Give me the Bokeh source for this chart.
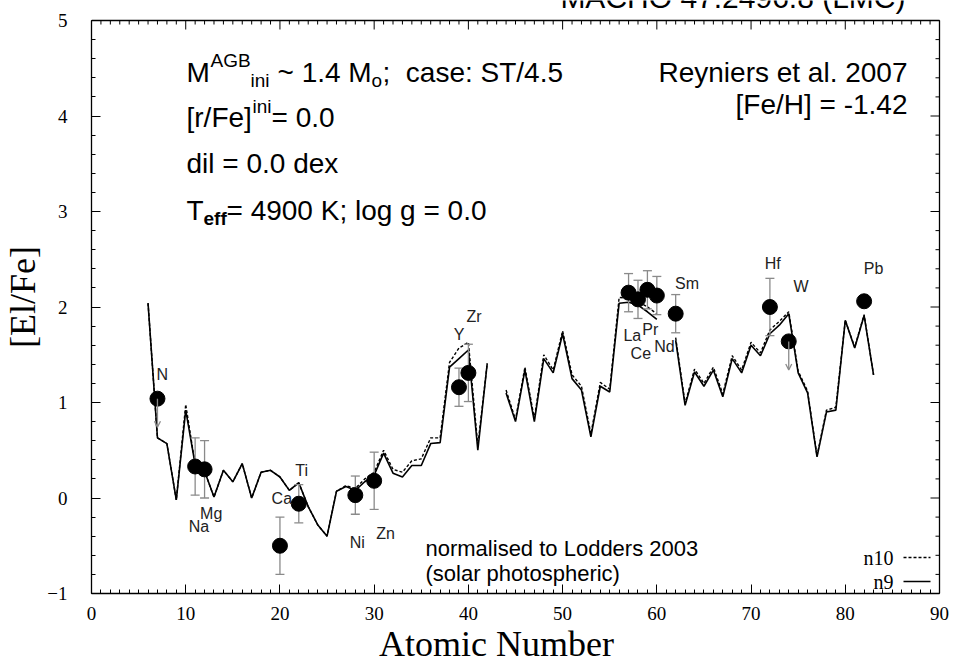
from bokeh.plotting import figure
from bokeh.models import (ColumnDataSource, Label, SingleIntervalTicker,
                          Range1d, Arrow, OpenHead)
from bokeh.core.properties import value
from bokeh.embed import file_html
from bokeh.resources import INLINE

NAN = float("nan")

# ---- model predictions, [El/Fe] versus atomic number (Tc and Pm have no value)
z_model = list(range(6, 84))
n9 = [2.04, 0.63, 0.57, -0.02, 0.92, 0.35, 0.28, 0.01, 0.29, 0.17,
      0.36, 0.00, 0.27, 0.29, 0.22, 0.08, 0.16, -0.09, -0.28, -0.40,
      0.07, 0.12, 0.08, 0.17, 0.24, 0.47, 0.26, 0.22, 0.34, 0.34,
      0.57, 0.58, 1.37, 1.46, 1.55, 0.50, 1.41, NAN, 1.10, 0.80,
      1.34, 0.80, 1.46, 1.31, 1.72, 1.25, 1.13, 0.64, 1.17, 1.11,
      2.04, 2.05, 2.02, 1.95, 1.87, NAN, 1.65, 0.97, 1.32, 1.17,
      1.34, 1.06, 1.46, 1.31, 1.60, 1.49, 1.72, 1.81, 1.93, 1.31,
      1.10, 0.43, 0.90, 0.92, 1.86, 1.57, 1.91, 1.29]
n10 = [2.04, 0.63, 0.57, -0.02, 0.98, 0.35, 0.28, 0.01, 0.29, 0.17,
       0.36, 0.00, 0.27, 0.29, 0.22, 0.08, 0.16, -0.09, -0.28, -0.40,
       0.07, 0.13, 0.10, 0.20, 0.27, 0.50, 0.30, 0.27, 0.39, 0.41,
       0.63, 0.63, 1.42, 1.57, 1.63, 0.55, 1.41, NAN, 1.13, 0.82,
       1.37, 0.83, 1.50, 1.34, 1.75, 1.29, 1.17, 0.67, 1.21, 1.14,
       2.10, 2.09, 2.06, 2.00, 1.93, NAN, 1.68, 0.99, 1.35, 1.20,
       1.37, 1.09, 1.49, 1.34, 1.63, 1.52, 1.76, 1.85, 1.95, 1.33,
       1.12, 0.44, 0.92, 0.95, 1.86, 1.58, 1.92, 1.29]

# ---- observed abundances (Reyniers et al. 2007)
obs_el = ["N", "Na", "Mg", "Ca", "Ti", "Ni", "Zn", "Y", "Zr",
          "La", "Ce", "Pr", "Nd", "Sm", "Hf", "W", "Pb"]
obs_z = [7, 11, 12, 20, 22, 28, 30, 39, 40, 57, 58, 59, 60, 62, 72, 74, 82]
obs_val = [1.04, 0.33, 0.30, -0.50, -0.06, 0.03, 0.18, 1.16, 1.31,
           2.15, 2.08, 2.18, 2.12, 1.93, 2.00, 1.64, 2.06]
obs_err = [0.0, 0.3, 0.3, 0.3, 0.2, 0.2, 0.3, 0.2, 0.3,
           0.2, 0.2, 0.2, 0.2, 0.2, 0.3, 0.0, 0.0]
upper_limits = ["N", "W"]

# where each element name is written, in data units
label_pos = {
    "N": (7.5, 1.29), "Na": (11.4, -0.30), "Mg": (12.7, -0.16),
    "Ca": (20.2, 0.00), "Ti": (22.3, 0.29), "Ni": (28.2, -0.47),
    "Zn": (31.2, -0.37), "Y": (39.0, 1.71), "Zr": (40.6, 1.90),
    "La": (57.4, 1.70), "Ce": (58.3, 1.51), "Pr": (59.3, 1.76),
    "Nd": (60.8, 1.59), "Sm": (63.2, 2.25), "Hf": (72.3, 2.46),
    "W": (75.3, 2.21), "Pb": (83.0, 2.40),
}

# ---- geometry: the box [0,90]x[-1,5] sits at pixels x 91..939, y 20..593.
# The drawing frame is stretched to the top and right canvas edges so that
# the clipped run title above the box can be shown; the top and right sides
# of the box are drawn by hand.
W, H = 955, 671
BL, BR, BT, BB = 91, 939, 20, 593
X0, X1, Y0, Y1 = 0, 90, -1, 5
PX_X = (BR - BL) / (X1 - X0)
PX_Y = (BB - BT) / (Y1 - Y0)


def at(px, py):
    """Convert a canvas pixel position to data coordinates."""
    return X0 + (px - BL) / PX_X, Y1 - (py - BT) / PX_Y


SANS = "Liberation Sans"
SERIF = "Liberation Serif"
NB = "\u00a0"

p = figure(width=W, height=H,
           x_range=Range1d(X0, X1 + (W - BR) / PX_X),
           y_range=Range1d(Y0, Y1 + BT / PX_Y),
           output_backend="svg", toolbar_location=None,
           min_border_left=BL, min_border_right=0,
           min_border_top=0, min_border_bottom=H - BB)
p.grid.visible = False
p.outline_line_color = None
p.background_fill_color = "white"
p.border_fill_color = "white"

xt = SingleIntervalTicker(interval=10, num_minor_ticks=10)
yt = SingleIntervalTicker(interval=1, num_minor_ticks=5)
p.xaxis.ticker = xt
p.yaxis.ticker = yt
p.xaxis.bounds = (X0, X1)
p.yaxis.bounds = (Y0, Y1)

p.yaxis.axis_label = "[El/Fe]"
p.xaxis.axis_label = "Atomic Number" + NB * 6
for ax in p.axis:
    ax.axis_label_text_font = SERIF
    ax.axis_label_text_font_size = "36px"
    ax.axis_label_text_font_style = "normal"
    ax.axis_label_text_color = "black"
    ax.axis_label_standoff = 1
    ax.major_label_text_font = SERIF
    ax.major_label_text_font_size = "19px"
    ax.major_label_text_color = "black"
    ax.axis_line_color = "black"
    ax.axis_line_width = 1.3
    ax.major_tick_in = 9
    ax.major_tick_out = 0
    ax.minor_tick_in = 4
    ax.minor_tick_out = 0
    ax.major_tick_line_color = "black"
    ax.minor_tick_line_color = "black"
p.yaxis.major_label_standoff = 24
p.xaxis.major_label_standoff = 13

# top and right sides of the box, with their inward ticks
top_major = list(range(X0, X1 + 1, 10))
top_minor = [x for x in range(X0, X1 + 1) if x % 10]
right_major = list(range(Y0, Y1 + 1))
right_minor = [Y0 + k * 0.2 for k in range(31) if k % 5]
p.segment(x0=[X0, X1], y0=[Y1, Y0], x1=[X1, X1], y1=[Y1, Y1],
          line_color="black", line_width=1.3)
p.segment(x0=top_major, y0=[Y1] * len(top_major), x1=top_major,
          y1=[Y1 - 9 / PX_Y] * len(top_major), line_color="black")
p.segment(x0=top_minor, y0=[Y1] * len(top_minor), x1=top_minor,
          y1=[Y1 - 4 / PX_Y] * len(top_minor), line_color="black")
p.segment(x0=[X1] * len(right_major), y0=right_major,
          x1=[X1 - 9 / PX_X] * len(right_major), y1=right_major,
          line_color="black")
p.segment(x0=[X1] * len(right_minor), y0=right_minor,
          x1=[X1 - 4 / PX_X] * len(right_minor), y1=right_minor,
          line_color="black")

# ---- model curves
model = ColumnDataSource(dict(z=z_model, n9=n9, n10=n10))
p.line("z", "n10", source=model, line_color="black", line_width=1.4,
       line_dash="3 2")
p.line("z", "n9", source=model, line_color="black", line_width=1.6)

# ---- observations with error bars
GREY = "#8a8a8a"
eb = [(z, v, e) for z, v, e in zip(obs_z, obs_val, obs_err) if e > 0]
p.segment(x0=[z for z, v, e in eb], y0=[v - e for z, v, e in eb],
          x1=[z for z, v, e in eb], y1=[v + e for z, v, e in eb],
          line_color=GREY, line_width=1.3)
p.scatter(x=[z for z, v, e in eb] * 2,
          y=[v - e for z, v, e in eb] + [v + e for z, v, e in eb],
          marker="dash", size=9, line_color=GREY, line_width=1.3)

for el, z, v in zip(obs_el, obs_z, obs_val):
    if el in upper_limits:
        p.add_layout(Arrow(x_start=z, y_start=v, x_end=z, y_end=v - 0.3,
                           line_color=GREY, line_width=1.3,
                           end=OpenHead(size=6, line_color=GREY, line_width=1.3)))

p.scatter(obs_z, obs_val, size=15, fill_color="black", line_color="black")

lab = ColumnDataSource(dict(
    x=[label_pos[e][0] for e in obs_el],
    y=[label_pos[e][1] for e in obs_el],
    t=obs_el))
p.text("x", "y", "t", source=lab, text_font=value(SANS),
       text_font_size=value("16px"), text_align="center",
       text_baseline="middle", text_color="#222222")


# ---- annotation texts (positions given as pixel centres)
def put(text, px, py, size, font=SANS, align="left", style="normal"):
    x, y = at(px, py)
    p.add_layout(Label(x=x, y=y, text=text, text_font=font,
                       text_font_size=f"{size}px", text_align=align,
                       text_baseline="middle", text_font_style=style,
                       text_color="black"))


BIG, SMALL = 28, 19
# M^AGB_ini ~ 1.4 M_o;  case: ST/4.5
put("M", 186, 72, BIG)
put("AGB", 210, 60, SMALL)
put("ini", 250, 80, SMALL)
put("~ 1.4 M", 277, 72, BIG)
put("o", 371, 80, SMALL)
put(";" + NB * 2 + "case: ST/4.5", 382, 72, BIG)
# [r/Fe]^ini= 0.0
put("[r/Fe]", 186, 117, BIG)
put("ini", 252, 106, SMALL)
put("= 0.0", 271, 117, BIG)
put("dil = 0.0 dex", 186, 163, BIG)
# T_eff= 4900 K; log g = 0.0
put("T", 186, 210, BIG)
put("eff", 203, 218, SMALL, style="bold")
put("= 4900 K; log g = 0.0", 226, 210, BIG)

put("Reyniers et al. 2007", 907, 72, BIG, align="right")
put("[Fe/H] = -1.42", 907, 104, BIG, align="right")

put("normalised to Lodders 2003", 425, 548, 22)
put("(solar photospheric)", 425, 573, 22)

put("MACHO 47.2496.8 (LMC)", 905, -3, 30, align="right")

# legend
put("n10", 893, 557, 20, font=SERIF, align="right")
put("n9", 893, 581, 20, font=SERIF, align="right")
lx0, ly0 = at(903, 557)
lx1, ly1 = at(930, 581)
p.line([lx0, lx1], [ly0, ly0], line_color="black", line_width=1.4,
       line_dash="3 2")
p.line([lx0, lx1], [ly1, ly1], line_color="black", line_width=1.6)

open("out.html", "w").write(file_html(p, INLINE))
